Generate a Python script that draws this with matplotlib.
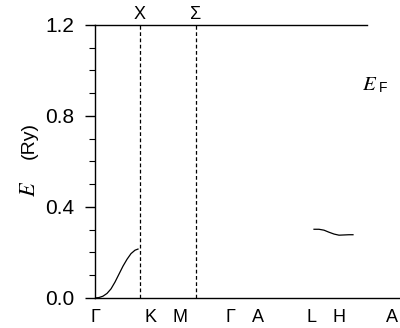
import numpy as np
import matplotlib.pyplot as plt

plt.rcParams['font.family'] = ['Liberation Sans', 'DejaVu Sans']
plt.rcParams['mathtext.fontset'] = 'stix'

# k-path positions (arbitrary units along the path)
kpos = [0, 55, 85, 135, 163, 216, 244, 297]
klabels = ['Γ', 'K', 'M', 'Γ', 'A', 'L', 'H', 'A']
top_pos = [45, 101]
top_labels = ['X', 'Σ']

# band 1: Γ -> X
k1 = [0, 4, 8, 12, 16, 20, 24, 28, 32, 36, 40, 43]
e1 = [0.0, 0.002, 0.008, 0.02, 0.04, 0.07, 0.105, 0.14, 0.17, 0.195, 0.21, 0.215]
# band 2: near L-H
k2 = [219, 224, 229, 234, 239, 244, 249, 254, 258]
e2 = [0.302, 0.302, 0.298, 0.289, 0.281, 0.276, 0.277, 0.278, 0.278]

fig = plt.figure(figsize=(4, 3.28), dpi=100)
ax = fig.add_axes([0.2375, 0.0915, 0.7625, 0.8325])

ax.plot(k1, e1, color='black', lw=0.9)
ax.plot(k2, e2, color='black', lw=0.9)
for x in top_pos:
    ax.axvline(x, color='black', lw=0.9, ls=(0, (3, 2)))
ax.plot([0, 272], [1.2, 1.2], color='black', lw=1.0, clip_on=False)
ax.plot([0, 305], [0, 0], color='black', lw=1.0, clip_on=False)

ax.set_xlim(0, 305)
ax.set_ylim(0, 1.2)
for s in ['top', 'right', 'bottom']:
    ax.spines[s].set_visible(False)
ax.spines['left'].set_linewidth(1.0)

ax.set_yticks([0.0, 0.4, 0.8, 1.2])
ax.set_yticklabels(['0.0', '0.4', '0.8', '1.2'], fontsize=15)
ax.set_yticks(np.arange(0, 1.21, 0.1), minor=True)
ax.tick_params(axis='y', which='major', length=7, width=1.0, direction='out', pad=8)
ax.tick_params(axis='y', which='minor', length=4, width=0.8, direction='out')

ax.set_xticks(kpos)
ax.set_xticklabels(klabels, fontsize=13)
ax.tick_params(axis='x', length=0, pad=8)

for x, lab in zip(top_pos, top_labels):
    ax.text(x, 1.21, lab, ha='center', va='bottom', fontsize=13)

# Fermi level label: italic E with upright sans F
ax.text(267, 0.94, r'$E$', ha='left', va='center', fontsize=15)
ax.text(284, 0.925, 'F', ha='left', va='center', fontsize=10)

ax.text(-0.215, 0.40, r'$E$', transform=ax.transAxes, rotation=90,
        ha='center', va='center', fontsize=16)
ax.text(-0.215, 0.575, '(Ry)', transform=ax.transAxes, rotation=90,
        ha='center', va='center', fontsize=14)

plt.savefig('out.png', dpi=100)
